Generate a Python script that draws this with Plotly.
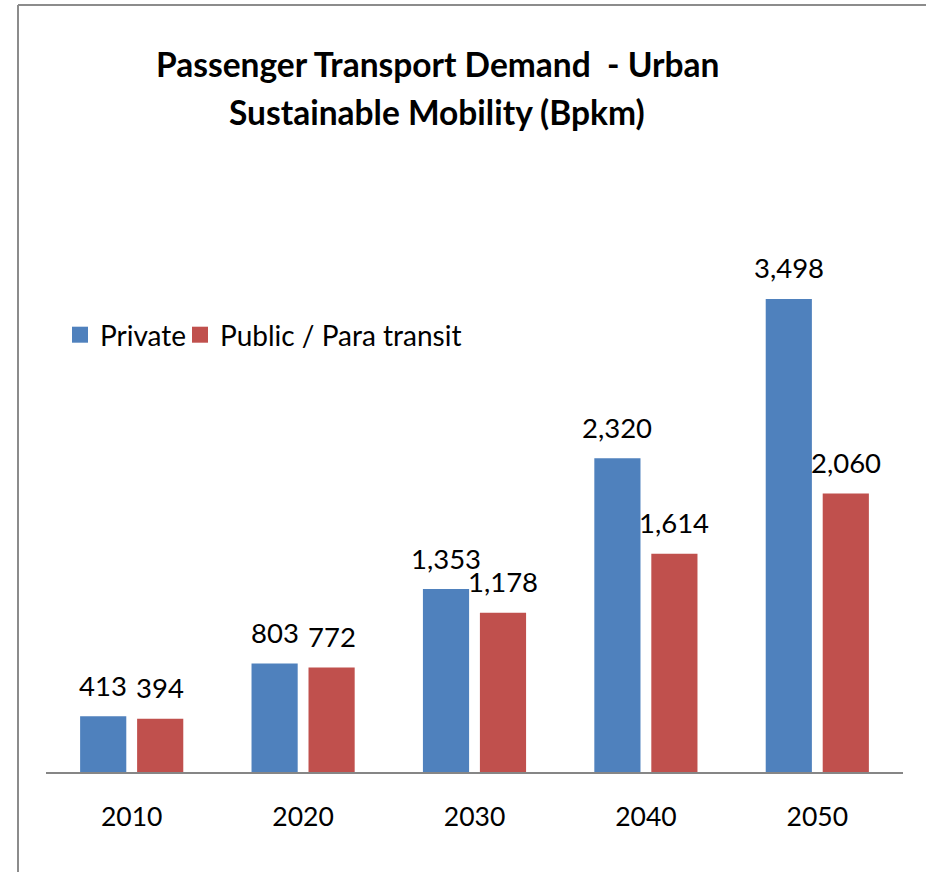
import plotly.graph_objects as go

years = ["2010", "2020", "2030", "2040", "2050"]
private = [413, 803, 1353, 2320, 3498]
public = [394, 772, 1178, 1614, 2060]
series_names = ["Private", "Public / Para transit"]
colors = ["#4F81BD", "#C0504D"]
title_lines = ["Passenger Transport Demand  - Urban", "Sustainable Mobility (Bpkm)"]

FONT = "Lato"
W, H = 926, 872
L, R, T, B = 46, 23, 231, 100
pw = W - L - R
ph = H - T - B

legend_ids = ["legend", "legend2"]
legend_x_px = [60, 180]

fig = go.Figure()
for name, vals, col, lg in zip(series_names, [private, public], colors, legend_ids):
    fig.add_trace(go.Bar(x=years, y=vals, name=name, marker=dict(color=col, line=dict(width=0)),
                         cliponaxis=False, showlegend=False))
    # legend proxy with a larger square symbol
    fig.add_trace(go.Scatter(x=[None], y=[None], mode="markers", name=name, legend=lg,
                             marker=dict(symbol="square", size=18, color=col)))

annos = []
for vals, shift in [(private, -28.5), (public, 28.5)]:
    for i, v in enumerate(vals):
        annos.append(dict(x=i, y=v, xref="x", yref="y", text=f"{v:,}", showarrow=False,
                          xshift=shift, yshift=31, yanchor="middle",
                          font=dict(family=FONT, size=27.5, color="#000")))

for line, ypx in zip(title_lines, [64, 112]):
    annos.append(dict(x=(437 - L) / pw, y=(H - B - ypx) / ph, xref="paper", yref="paper",
                      text=f"<b>{line}</b>", showarrow=False, xanchor="center", yanchor="middle",
                      font=dict(family=FONT, size=33.5, color="#000")))

legend_common = dict(orientation="h", y=(H - B - 335) / ph, xanchor="left", yanchor="middle",
                     font=dict(family=FONT, size=28, color="#000"), bgcolor="rgba(0,0,0,0)",
                     itemwidth=30, tracegroupgap=0)

frame_top = (H - B - 5) / ph
frame_left = (18 - L) / pw

fig.update_layout(
    annotations=annos,
    width=W, height=H,
    margin=dict(l=L, r=R, t=T, b=B, autoexpand=False),
    paper_bgcolor="white", plot_bgcolor="white",
    barmode="group", bargap=0.335, bargroupgap=0.19,
    font=dict(family=FONT, size=27, color="#000"),
    showlegend=True,
    legend=dict(x=(legend_x_px[0] - L) / pw, **legend_common),
    legend2=dict(x=(legend_x_px[1] - L) / pw, **legend_common),
    xaxis=dict(type="category", range=[-0.5, 4.5], showline=True, linecolor="#868686", linewidth=2,
               ticks="", showgrid=False, tickfont=dict(family=FONT, size=26.5), ticklabelstandoff=20),
    yaxis=dict(range=[0, 4000], visible=False, showgrid=False, zeroline=False),
    shapes=[
        dict(type="line", xref="paper", yref="paper",
             x0=frame_left, x1=(W + 4 - L) / pw, y0=frame_top, y1=frame_top,
             line=dict(color="#8c8c8c", width=2), layer="below"),
        dict(type="line", xref="paper", yref="paper",
             x0=frame_left, x1=frame_left, y0=-(B + 4) / ph, y1=frame_top,
             line=dict(color="#8c8c8c", width=2), layer="below"),
    ],
)

fig.write_html("out.html", config={"displayModeBar": False},
               post_script="document.body.style.margin='0';document.body.style.overflow='hidden';")
